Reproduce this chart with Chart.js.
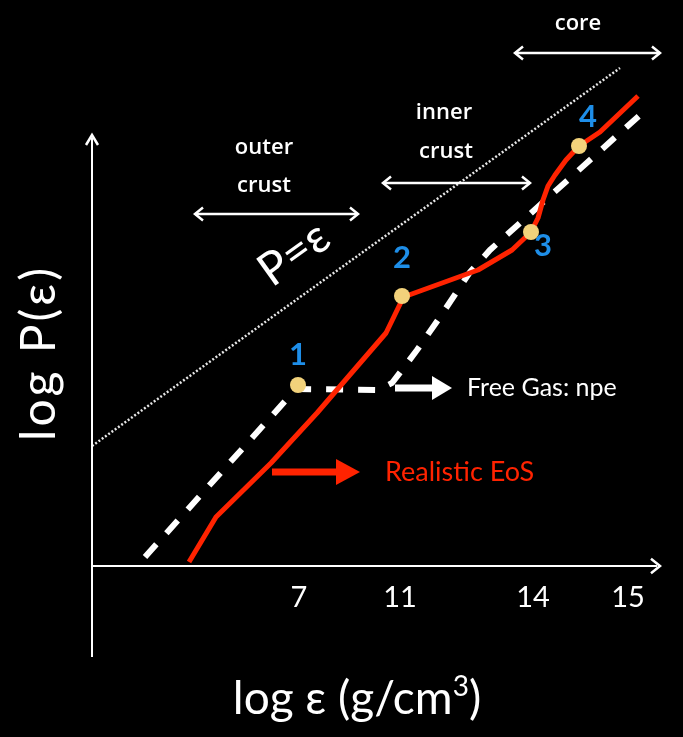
<!DOCTYPE html>
<html>
<head>
<meta charset="utf-8">
<script src="https://cdn.jsdelivr.net/npm/chart.js@4.4.1/dist/chart.umd.min.js"></script>
<style>
  html, body { margin: 0; padding: 0; background: #000; }
  #wrap { width: 683px; height: 737px; position: relative; }
</style>
</head>
<body>
<div id="wrap"><canvas id="eos"></canvas></div>
<script>
// Schematic equation of state of neutron-star matter, log P vs log density.
// Coordinates are schematic units along each axis.

// Realistic EoS curve
const realX = [97, 124, 179, 225, 256, 294, 311, 317, 386, 420, 439, 446, 451, 456, 463, 474, 487, 508, 546];
const realY = [4, 49, 103, 153, 189, 233, 268, 271, 296, 316, 334, 348, 366, 380, 391, 406, 420, 434, 470];

// Free gas of neutrons, protons and electrons
const gasX = [53, 204, 286, 300, 313, 325, 348, 378, 398, 548];
const gasY = [9, 177, 176, 183, 200, 216, 249, 294, 316, 451];

// Causal limit P = epsilon
const limitX = [0, 528];
const limitY = [120, 498];

// Transition points
const markX = [206, 310, 439, 487];
const markY = [181, 270, 334, 420];
const markNames = ['1', '2', '3', '4'];

// Density ticks
const tickPos = [207, 308, 441, 536];
const tickLabels = ['7', '11', '14', '15'];

// Density regions
const regionNames = ['outer crust', 'inner crust', 'core'];
const regionFrom = [103, 291, 423];
const regionTo = [266, 438, 568];

const pts = (xs, ys) => xs.map((x, i) => ({ x: x, y: ys[i] }));

const WHITE = '#ffffff';
const RED = '#ff2300';
const BLUE = '#1e8ee8';
const GOLD = '#f2d27b';

function arrowHeadOpen(ctx, x, y, dir, size) {
  ctx.beginPath();
  ctx.moveTo(x - dir * size, y - size * 0.8);
  ctx.lineTo(x, y);
  ctx.lineTo(x - dir * size, y + size * 0.8);
  ctx.stroke();
}

function arrowHeadVertical(ctx, x, y) {
  ctx.beginPath();
  ctx.moveTo(x - 6, y + 10);
  ctx.lineTo(x, y);
  ctx.lineTo(x + 6, y + 10);
  ctx.stroke();
}

function bigArrow(ctx, x0, x1, y, color, w, head, headH) {
  ctx.fillStyle = color;
  ctx.fillRect(x0, y - w / 2, x1 - head - x0, w);
  ctx.beginPath();
  ctx.moveTo(x1 - head, y - headH);
  ctx.lineTo(x1, y);
  ctx.lineTo(x1 - head, y + headH);
  ctx.closePath();
  ctx.fill();
}

const decor = {
  id: 'decor',
  beforeDraw(chart) {
    const ctx = chart.ctx;
    ctx.save();
    ctx.fillStyle = '#000';
    ctx.fillRect(0, 0, chart.width, chart.height);
    ctx.restore();
  },
  afterDatasetsDraw(chart) {
    const ctx = chart.ctx;
    const sx = chart.scales.x, sy = chart.scales.y;
    const X = v => sx.getPixelForValue(v);
    const Y = v => sy.getPixelForValue(v);
    ctx.save();

    // axes with arrows
    ctx.strokeStyle = WHITE;
    ctx.fillStyle = WHITE;
    ctx.lineWidth = 2;
    ctx.lineCap = 'butt';
    ctx.beginPath();
    ctx.moveTo(X(0), Y(-91));
    ctx.lineTo(X(0), Y(428));
    ctx.moveTo(X(0), Y(0));
    ctx.lineTo(X(565), Y(0));
    ctx.stroke();
    ctx.lineWidth = 2.5;
    arrowHeadVertical(ctx, X(0), Y(431));
    arrowHeadOpen(ctx, X(568), Y(0), 1, 9);

    // region double arrows
    ctx.lineWidth = 2.5;
    const rowY = [352, 383, 513];
    for (let i = 0; i < regionNames.length; i++) {
      const y = Y(rowY[i]);
      ctx.beginPath();
      ctx.moveTo(X(regionFrom[i]), y);
      ctx.lineTo(X(regionTo[i]), y);
      ctx.stroke();
      arrowHeadOpen(ctx, X(regionTo[i]), y, 1, 8);
      arrowHeadOpen(ctx, X(regionFrom[i]), y, -1, 8);
    }

    // region captions
    ctx.fillStyle = WHITE;
    ctx.textAlign = 'center';
    ctx.textBaseline = 'middle';
    ctx.font = '600 22px "Open Sans"';
    ctx.fillText('outer', X(172), Y(418));
    ctx.fillText('crust', X(172), Y(380));
    ctx.fillText('inner', X(352), Y(453));
    ctx.fillText('crust', X(354), Y(414));
    ctx.fillText('core', X(486), Y(542));

    // P = epsilon label along the causal line
    ctx.save();
    ctx.translate(X(202), Y(312));
    ctx.rotate(-Math.atan2(378, 528));
    ctx.font = '46px Lato';
    ctx.fillText('P=\u03b5', 0, 0);
    ctx.restore();

    // series callouts
    bigArrow(ctx, X(303), X(360), Y(178), WHITE, 7, 20, 12);
    ctx.textAlign = 'left';
    ctx.font = '25px Lato';
    ctx.fillStyle = WHITE;
    ctx.fillText('Free Gas: npe', X(375), Y(178));

    bigArrow(ctx, X(180), X(268), Y(94), RED, 7, 24, 13);
    ctx.fillStyle = RED;
    ctx.font = '27px Lato';
    ctx.fillText('Realistic EoS', X(293), Y(94));

    // transition point numbers
    const meta = chart.getDatasetMeta(0);
    const offs = [[0, -30], [0, -38], [12, 14], [9, -29]];
    ctx.fillStyle = BLUE;
    ctx.textAlign = 'center';
    ctx.font = 'bold 31px Lato';
    meta.data.forEach((el, i) => {
      ctx.fillText(markNames[i], el.x + offs[i][0], el.y + offs[i][1]);
    });

    // axis titles
    ctx.fillStyle = WHITE;
    ctx.save();
    ctx.translate(40, Y(213));
    ctx.rotate(-Math.PI / 2);
    ctx.textAlign = 'center';
    ctx.font = '48px Lato';
    ctx.letterSpacing = '3px';
    ctx.fillText('log P(\u03b5)', 0, 0);
    ctx.restore();

    ctx.font = '46px Lato';
    ctx.textAlign = 'left';
    ctx.textBaseline = 'alphabetic';
    const main = 'log \u03b5 (g/cm';
    const w1 = ctx.measureText(main).width;
    ctx.font = '28px Lato';
    const w2 = ctx.measureText('3').width;
    ctx.font = '46px Lato';
    const w3 = ctx.measureText(')').width;
    const x0 = 357 - (w1 + w2 + w3) / 2;
    const base = 714;
    ctx.fillText(main, x0, base);
    ctx.font = '28px Lato';
    ctx.fillText('3', x0 + w1, base - 18);
    ctx.font = '46px Lato';
    ctx.fillText(')', x0 + w1 + w2, base);

    ctx.restore();
  }
};

new Chart(document.getElementById('eos'), {
  type: 'scatter',
  data: {
    datasets: [
      {
        label: 'transitions',
        data: pts(markX, markY),
        pointRadius: 8,
        pointBackgroundColor: GOLD,
        pointBorderWidth: 0,
        showLine: false
      },
      {
        label: 'Realistic EoS',
        data: pts(realX, realY),
        showLine: true,
        borderColor: RED,
        borderWidth: 5,
        pointRadius: 0,
        tension: 0,
        borderJoinStyle: 'round'
      },
      {
        label: 'Free Gas: npe',
        data: pts(gasX, gasY),
        showLine: true,
        borderColor: WHITE,
        borderWidth: 6,
        borderDash: [17, 15],
        pointRadius: 0,
        tension: 0
      },
      {
        label: 'P = \u03b5',
        data: pts(limitX, limitY),
        showLine: true,
        borderColor: '#e6e6e6',
        borderWidth: 2.5,
        borderDash: [2, 2],
        pointRadius: 0
      }
    ]
  },
  options: {
    responsive: true,
    maintainAspectRatio: false,
    animation: false,
    layout: { padding: { left: 92, right: 21, top: 40, bottom: 111 } },
    plugins: { legend: { display: false }, tooltip: { enabled: false } },
    scales: {
      x: {
        type: 'linear',
        min: 0,
        max: 570,
        grid: { display: false, drawTicks: false },
        border: { display: false },
        afterBuildTicks: s => { s.ticks = tickPos.map(v => ({ value: v })); },
        afterFit: s => { s.height = 60; },
        ticks: {
          color: WHITE,
          font: { family: 'Lato', size: 29 },
          padding: 14,
          autoSkip: false,
          maxRotation: 0,
          callback: (v, i) => tickLabels[i]
        }
      },
      y: {
        type: 'linear',
        min: 0,
        max: 526,
        display: false
      }
    }
  },
  plugins: [decor]
});
</script>
</body>
</html>
